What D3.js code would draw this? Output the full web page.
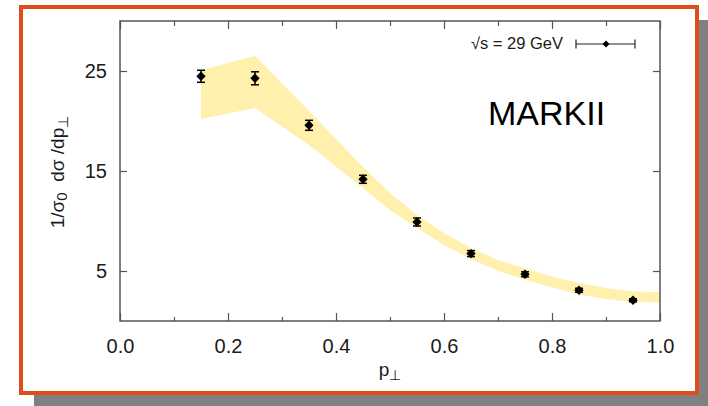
<!DOCTYPE html>
<html>
<head>
<meta charset="utf-8">
<script src="https://cdn.jsdelivr.net/npm/d3@7"></script>
<style>
  html, body { margin: 0; padding: 0; background: #ffffff; }
  svg { display: block; }
  text { font-family: "Liberation Sans", Arial, sans-serif; }
</style>
</head>
<body>
<svg id="chart" width="708" height="406"></svg>
<script>
// ---- data ----
const pT      = [0.15, 0.25, 0.35, 0.45, 0.55, 0.65, 0.75, 0.85, 0.95];
const dsig    = [24.47, 24.27, 19.57, 14.17, 9.9, 6.74, 4.67, 3.07, 2.07];
const dsigErr = [0.6, 0.65, 0.5, 0.4, 0.4, 0.3, 0.25, 0.2, 0.15];

const bandX     = [0.15, 0.25, 0.35, 0.45, 0.5, 0.55, 0.6, 0.65, 0.7, 0.75, 0.8, 0.85, 0.9, 0.95, 1.0];
const bandUpper = [25.1, 26.5, 21.0, 15.4, 12.8, 10.6, 8.8, 7.3, 6.1, 5.25, 4.45, 3.8, 3.3, 2.95, 2.9];
const bandLower = [20.2, 21.3, 17.6, 13.3, 11.1, 9.3, 7.6, 6.2, 5.0, 4.15, 3.35, 2.65, 2.2, 1.9, 1.85];

const xMajorTicks = [0, 0.2, 0.4, 0.6, 0.8, 1.0];
const xMinorTicks = [0.1, 0.3, 0.5, 0.7, 0.9];
const yTicks = [5, 15, 25];
const legendLabel = "√s = 29 GeV";
const experiment = "MARKII";

// ---- layout ----
const svg = d3.select("#chart");
const L = 120, R = 660, T = 21, B = 321;
const x = d3.scaleLinear().domain([0, 1]).range([L, R]);
const y = d3.scaleLinear().domain([0, 30]).range([B, T]);

// frame with shadow
svg.append("rect").attr("x", 34).attr("y", 20).attr("width", 700).attr("height", 400).attr("fill", "#808080");
svg.append("rect").attr("x", 21).attr("y", 7).attr("width", 676).attr("height", 386)
   .attr("fill", "#ffffff").attr("stroke", "#e04c1c").attr("stroke-width", 4);

// band
const bandData = bandX.map((v, i) => ({ x: v, lo: bandLower[i], hi: bandUpper[i] }));
svg.append("path").datum(bandData)
   .attr("fill", "#fff0ad")
   .attr("d", d3.area().x(d => x(d.x)).y0(d => y(d.lo)).y1(d => y(d.hi)));

// axes
const axisColor = "#555";
function styleAxis(g) {
  g.select(".domain").remove();
  g.selectAll(".tick line").attr("stroke", axisColor).attr("stroke-width", 1.2);
  g.selectAll("text").attr("fill", "#1a1a1a").attr("font-size", 20)
   .attr("font-family", '"Liberation Sans", Arial, sans-serif');
}
const gB = svg.append("g").attr("transform", `translate(0,${B})`)
  .call(d3.axisBottom(x).tickValues(xMajorTicks).tickSize(-8).tickPadding(18).tickFormat(d3.format(".1f")));
styleAxis(gB);
const gBm = svg.append("g").attr("transform", `translate(0,${B})`)
  .call(d3.axisBottom(x).tickValues(xMinorTicks).tickSize(-4).tickFormat(""));
styleAxis(gBm);
const gT = svg.append("g").attr("transform", `translate(0,${T})`)
  .call(d3.axisTop(x).tickValues(xMajorTicks).tickSize(-8).tickFormat(""));
styleAxis(gT);
const gTm = svg.append("g").attr("transform", `translate(0,${T})`)
  .call(d3.axisTop(x).tickValues(xMinorTicks).tickSize(-5).tickFormat(""));
styleAxis(gTm);
const gL = svg.append("g").attr("transform", `translate(${L},0)`)
  .call(d3.axisLeft(y).tickValues(yTicks).tickSize(-7).tickPadding(13));
styleAxis(gL);
const gR = svg.append("g").attr("transform", `translate(${R},0)`)
  .call(d3.axisRight(y).tickValues(yTicks).tickSize(-7).tickFormat(""));
styleAxis(gR);

// plot border
svg.append("rect").attr("x", L).attr("y", T).attr("width", R - L).attr("height", B - T)
   .attr("fill", "none").attr("stroke", axisColor).attr("stroke-width", 1.5);

// data points with error bars
const pts = pT.map((v, i) => ({ x: v, y: dsig[i], e: dsigErr[i] }));
const gp = svg.append("g");
const cap = 4;
gp.selectAll("line.err").data(pts).join("line").attr("class", "err")
  .attr("x1", d => x(d.x)).attr("x2", d => x(d.x))
  .attr("y1", d => y(d.y - d.e)).attr("y2", d => y(d.y + d.e))
  .attr("stroke", "#000").attr("stroke-width", 1.5);
gp.selectAll("line.capt").data(pts).join("line").attr("class", "capt")
  .attr("x1", d => x(d.x) - cap).attr("x2", d => x(d.x) + cap)
  .attr("y1", d => y(d.y + d.e)).attr("y2", d => y(d.y + d.e))
  .attr("stroke", "#000").attr("stroke-width", 1.5);
gp.selectAll("line.capb").data(pts).join("line").attr("class", "capb")
  .attr("x1", d => x(d.x) - cap).attr("x2", d => x(d.x) + cap)
  .attr("y1", d => y(d.y - d.e)).attr("y2", d => y(d.y - d.e))
  .attr("stroke", "#000").attr("stroke-width", 1.5);
gp.selectAll("path.pt").data(pts).join("path").attr("class", "pt")
  .attr("d", d3.symbol(d3.symbolSquare, 44))
  .attr("transform", d => `translate(${x(d.x)},${y(d.y)}) rotate(45)`)
  .attr("fill", "#000");

// legend
svg.append("text").attr("x", 563).attr("y", 49).attr("text-anchor", "end")
   .attr("font-size", 16.5).attr("fill", "#1a1a1a").text(legendLabel);
const lg = svg.append("g").attr("stroke", "#222").attr("stroke-width", 1.2);
lg.append("line").attr("x1", 576).attr("x2", 635).attr("y1", 44).attr("y2", 44);
lg.append("line").attr("x1", 576).attr("x2", 576).attr("y1", 39.5).attr("y2", 48.5);
lg.append("line").attr("x1", 635).attr("x2", 635).attr("y1", 39.5).attr("y2", 48.5);
svg.append("path").attr("d", d3.symbol(d3.symbolSquare, 24))
   .attr("transform", "translate(606,44) rotate(45)").attr("fill", "#000");

// experiment label
svg.append("text").attr("x", 488).attr("y", 125).attr("font-size", 34)
   .attr("fill", "#000").text(experiment);

// axis titles
const xt = svg.append("text").attr("x", 390).attr("y", 376).attr("text-anchor", "middle")
   .attr("font-size", 19).attr("fill", "#1a1a1a");
xt.append("tspan").text("p");
xt.append("tspan").attr("font-size", 14).attr("dy", 4).text("⊥");

const yt = svg.append("text").attr("transform", "translate(64,172) rotate(-90)")
   .attr("text-anchor", "middle").attr("font-size", 19).attr("fill", "#1a1a1a");
yt.append("tspan").text("1/σ");
yt.append("tspan").attr("font-size", 15).attr("dy", 3).text("0");
yt.append("tspan").attr("dy", -3).text("\u00a0 dσ /dp");
yt.append("tspan").attr("font-size", 14).attr("dy", 4).text("⊥");
</script>
</body>
</html>
